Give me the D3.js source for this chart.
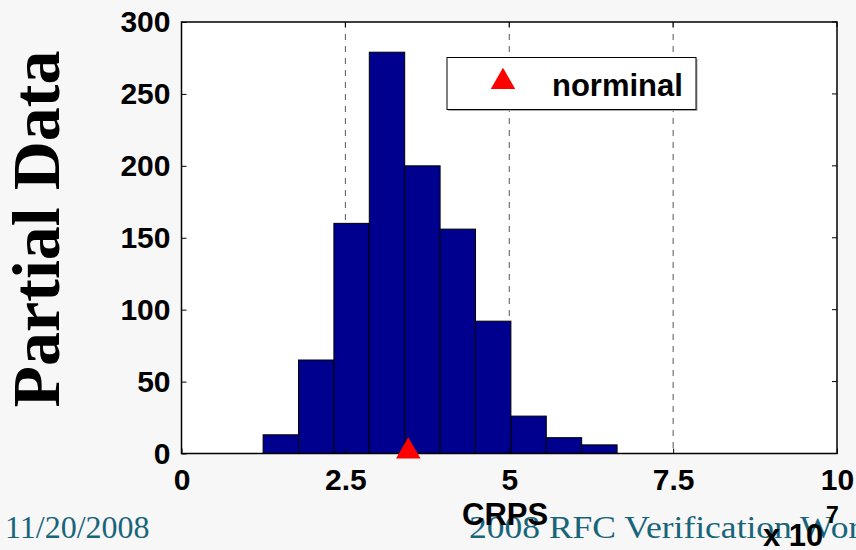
<!DOCTYPE html>
<html><head><meta charset="utf-8">
<script src="https://cdn.jsdelivr.net/npm/d3@7/dist/d3.min.js"></script>
<style>
html,body{margin:0;padding:0;background:#f7f7f7;}
svg{display:block;}
</style></head>
<body>
<script>
// Data (CRPS in units of 1e7)
const binStart = 1.245;
const binWidth = 0.54;
const counts = [13, 65, 160, 279, 200, 156, 92, 26, 11, 6];
const xTicks = [0, 2.5, 5, 7.5, 10];
const xTickLabels = ["0", "2.5", "5", "7.5", "10"];
const yTicks = [0, 50, 100, 150, 200, 250, 300];
const gridX = [2.5, 5, 7.5];
const nominal = [3.46];
const legendLabel = "norminal";

const W = 856, H = 550;
const svg = d3.select("body").append("svg").attr("width", W).attr("height", H);

const L = 181.5, R = 837, T = 22, B = 453.5;
const x = d3.scaleLinear().domain([0, 10]).range([L, R]);
const y = d3.scaleLinear().domain([0, 300]).range([B, T]);

// footer (slide text, under the chart)
svg.append("text").attr("x", 5).attr("y", 538).text("11/20/2008")
  .attr("font-family", "'Liberation Serif', serif").attr("font-size", 32).attr("fill", "#17657a");
svg.append("text").attr("transform", "translate(469,538) scale(1.11,1)").text("2008 RFC Verification Workshop")
  .attr("font-family", "'Liberation Serif', serif").attr("font-size", 32).attr("fill", "#17657a");

// plot background
svg.append("rect").attr("x", L).attr("y", T).attr("width", R - L).attr("height", B - T).attr("fill", "#fff");

// grid
svg.append("g").selectAll("line").data(gridX).join("line")
  .attr("x1", d => x(d)).attr("x2", d => x(d)).attr("y1", T).attr("y2", B)
  .attr("stroke", "#555").attr("stroke-width", 1).attr("stroke-dasharray", "6,6");

// bars
const bins = counts.map((c, i) => ({x0: binStart + i * binWidth, x1: binStart + (i + 1) * binWidth, c}));
svg.append("g").selectAll("rect").data(bins).join("rect")
  .attr("x", d => x(d.x0)).attr("width", d => x(d.x1) - x(d.x0))
  .attr("y", d => y(d.c)).attr("height", d => y(0) - y(d.c))
  .attr("fill", "#00008f").attr("stroke", "#000").attr("stroke-width", 1);

// axes frame
const font = "'Liberation Sans', Arial, sans-serif";
const xAxis = d3.axisBottom(x).tickValues(xTicks).tickSize(-5).tickPadding(15)
  .tickFormat((d, i) => xTickLabels[i]);
const yAxis = d3.axisLeft(y).tickValues(yTicks).tickSize(-5).tickPadding(11);
const gx = svg.append("g").attr("transform", `translate(0,${B})`).call(xAxis);
const gy = svg.append("g").attr("transform", `translate(${L},0)`).call(yAxis);
[gx, gy].forEach(g => {
  g.select(".domain").remove();
  g.selectAll("line").attr("stroke", "#000");
  g.selectAll("text").attr("font-family", font).attr("font-weight", "bold").attr("font-size", 30).attr("fill", "#000");
});
gx.selectAll("text").attr("dy", "0.71em");
// top and right ticks
svg.append("g").selectAll("line").data(xTicks).join("line")
  .attr("x1", d => x(d)).attr("x2", d => x(d)).attr("y1", T).attr("y2", T + 5).attr("stroke", "#000");
svg.append("g").selectAll("line").data(yTicks).join("line")
  .attr("x1", R).attr("x2", R - 5).attr("y1", d => y(d)).attr("y2", d => y(d)).attr("stroke", "#000");
svg.append("rect").attr("x", L).attr("y", T).attr("width", R - L).attr("height", B - T)
  .attr("fill", "none").attr("stroke", "#000").attr("stroke-width", 1.5);

// nominal marker
const tri = d3.symbol().type(d3.symbolTriangle).size(260);
svg.append("g").selectAll("path").data(nominal).join("path")
  .attr("d", tri).attr("transform", d => `translate(${x(d)},${y(0) - 2})`).attr("fill", "#ff0000");

// legend
const lg = svg.append("g");
lg.append("rect").attr("x", 448.5).attr("y", 59).attr("width", 249).attr("height", 52).attr("fill", "#aaa");
lg.append("rect").attr("x", 447).attr("y", 57.5).attr("width", 249).attr("height", 52)
  .attr("fill", "#fff").attr("stroke", "#000").attr("stroke-width", 1);
lg.append("path").attr("d", tri).attr("transform", "translate(503,82)").attr("fill", "#ff0000");
lg.append("text").attr("x", 552).attr("y", 96).text(legendLabel)
  .attr("font-family", font).attr("font-weight", "bold").attr("font-size", 31).attr("fill", "#000");

// axis labels
svg.append("text").attr("x", 462).attr("y", 525).text("CRPS")
  .attr("font-family", font).attr("font-weight", "bold").attr("font-size", 31).attr("fill", "#000");
svg.append("text").attr("x", 763).attr("y", 546).text("x 10")
  .attr("font-family", font).attr("font-weight", "bold").attr("font-size", 31).attr("fill", "#000");
svg.append("text").attr("x", 826).attr("y", 523).text("7")
  .attr("font-family", font).attr("font-weight", "bold").attr("font-size", 23).attr("fill", "#000");

svg.append("text").attr("transform", "translate(59,229) rotate(-90)").attr("text-anchor", "middle")
  .text("Partial Data").attr("font-family", "'Liberation Serif', 'Times New Roman', serif")
  .attr("font-weight", "bold").attr("font-size", 68).attr("fill", "#000");
</script>
</body></html>
